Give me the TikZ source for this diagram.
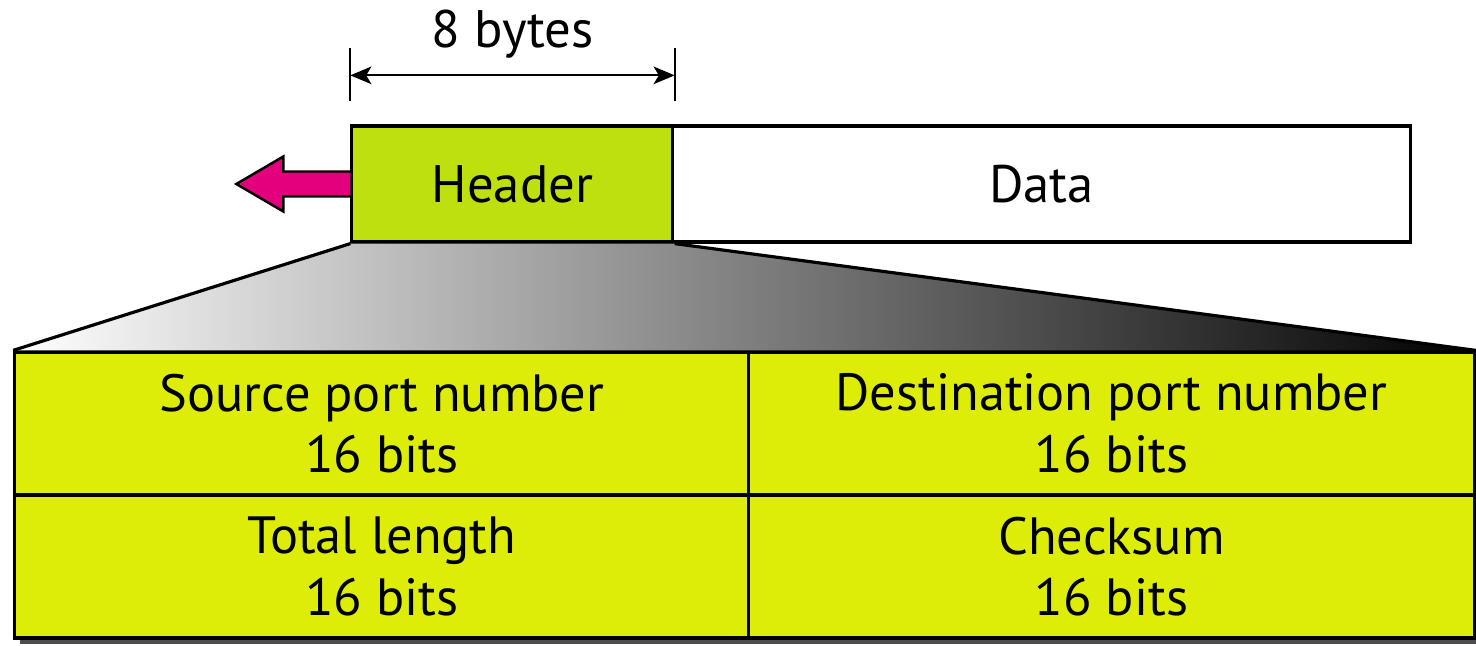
\documentclass[tikz,border=0pt]{standalone}
\usepackage{fontspec}
\setmainfont{PT Sans}
\usetikzlibrary{arrows.meta}
\usetikzlibrary{shadows}
\definecolor{hdrgreen}{HTML}{BFE00F}
\definecolor{fieldgreen}{HTML}{DDED08}
\definecolor{portpink}{HTML}{E4007C}

\begin{document}
\begin{tikzpicture}[x=0.01cm,y=-0.01cm]
  \tikzset{seg/.style = {draw,line width=0.9pt,minimum height=1.16cm,inner sep=0pt,font=\fontsize{15}{18}\selectfont}}
  \tikzset{field/.style = {draw,line width=0.9pt,fill=fieldgreen,minimum height=1.43cm,inner sep=0pt,align=center,
      font=\fontsize{14.9}{17.5}\selectfont,
      drop shadow={shadow xshift=0.05cm,shadow yshift=-0.06cm,opacity=1,fill=black!70}}}
  \tikzset{dim/.style = {line width=0.6pt}}

  \useasboundingbox (0,0) rectangle (1476,646);

	% user datagram
	\node[seg,fill=hdrgreen,minimum width=3.21cm] (hdr) at (512.5,184) {Header};
	\node[seg,fill=white,minimum width=7.37cm] (data) at (1041.5,184) {Data};

	% header fields
	\node[field,minimum width=7.34cm] (src) at (382,423.5) {Source port number\\16 bits};
	\node[field,minimum width=7.25cm] (dst) at (1111.5,423.5) {Destination port number\\16 bits};
	\node[field,minimum width=7.34cm] (len) at (382,566.5) {Total length\\16 bits};
	\node[field,minimum width=7.25cm] (chk) at (1111.5,566.5) {Checksum\\16 bits};

	% expansion of the header
	\shade[left color=white,right color=black] (hdr.south west) -- (hdr.south east) -- (dst.north east) -- (src.north west) -- cycle;
	\draw[line width=0.9pt] (hdr.south west) -- (src.north west);
	\draw[line width=0.9pt] (hdr.south east) -- (dst.north east);

	% direction arrow
	\draw[fill=portpink,line width=0.7pt] (hdr.west) ++(0,-12.5) -- ++(-67,0) -- ++(0,-15) -- ++(-47,27.5) -- ++(47,27.5) -- ++(0,-15) -- ++(67,0);

	% size of the header
	\draw[dim] ([yshift=0.23cm]hdr.north west) -- ([yshift=0.76cm]hdr.north west);
	\draw[dim] ([yshift=0.23cm]hdr.north east) -- ([yshift=0.76cm]hdr.north east);
	\draw[dim,{Stealth[length=6pt,width=5pt,inset=1.5pt]}-{Stealth[length=6pt,width=5pt,inset=1.5pt]}]
	  ([yshift=0.49cm]hdr.north west) -- ([yshift=0.49cm]hdr.north east);
	\node[font=\fontsize{15}{18}\selectfont] (size) at ([yshift=0.9cm]hdr.north) {8 bytes};
\end{tikzpicture}
\end{document}
